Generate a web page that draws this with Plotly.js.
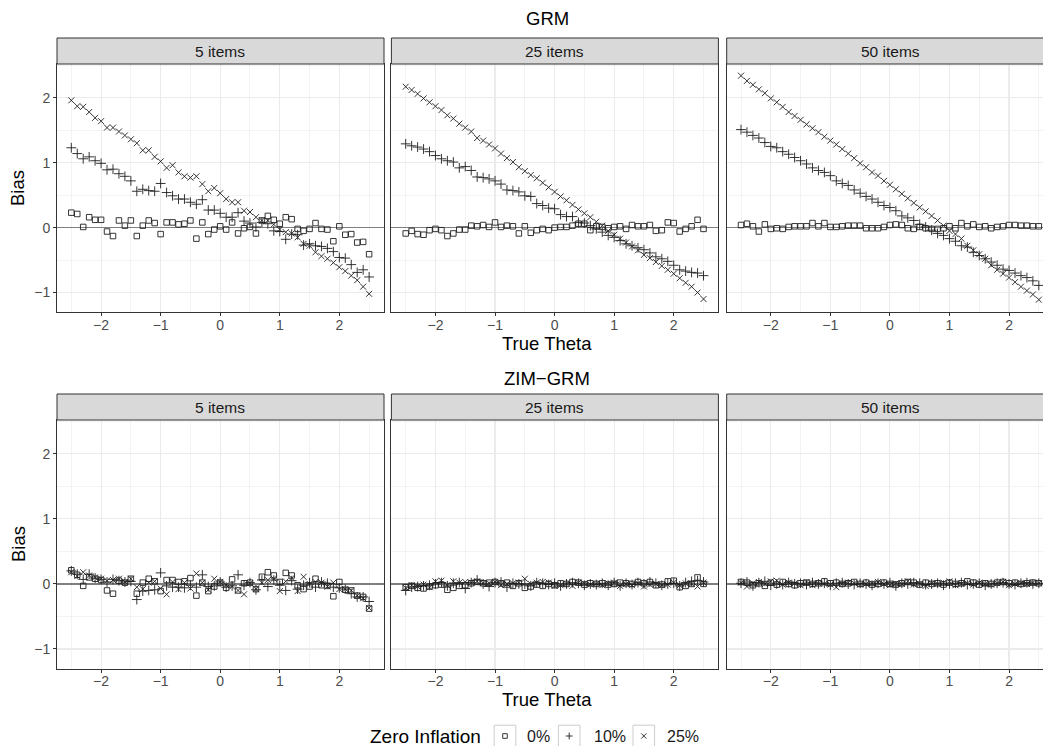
<!DOCTYPE html>
<html>
<head>
<meta charset="utf-8">
<script src="https://cdn.plot.ly/plotly-3.0.1.min.js"></script>
<style>html,body{margin:0;padding:0;background:#fff;}#chart{width:1043px;height:746px;}</style>
</head>
<body>
<div id="chart"></div>
<script>
// ---------- DATA ----------
const theta = [-2.5,-2.4,-2.3,-2.2,-2.1,-2.0,-1.9,-1.8,-1.7,-1.6,-1.5,-1.4,-1.3,-1.2,-1.1,-1.0,-0.9,-0.8,-0.7,-0.6,-0.5,-0.4,-0.3,-0.2,-0.1,0.0,0.1,0.2,0.3,0.4,0.5,0.6,0.7,0.8,0.9,1.0,1.1,1.2,1.3,1.4,1.5,1.6,1.7,1.8,1.9,2.0,2.1,2.2,2.3,2.4,2.5];
const seriesNames = ['0%','10%','25%'];
const legendTitle = 'Zero Inflation';
const facetNames = ['5 items','25 items','50 items'];
const rowTitles = ['GRM','ZIM\u2212GRM'];
const xTitle = 'True Theta';
const yTitle = 'Bias';
const xTickVals = [-2,-1,0,1,2];
const yTickVals = [-1,0,1,2];

// GRM, 5 items
const grm5_0  = [0.23,0.21,0.01,0.16,0.12,0.12,-0.06,-0.13,0.11,0.03,0.11,-0.13,0.03,0.11,0.07,-0.10,0.08,0.08,0.05,0.06,0.11,-0.17,0.08,-0.10,-0.03,0.02,-0.03,0.08,-0.09,-0.01,0.01,-0.09,0.11,0.18,0.12,0.06,0.16,0.13,-0.02,-0.05,-0.02,0.07,-0.02,-0.03,-0.21,0.02,-0.11,-0.10,-0.23,-0.22,-0.41];
const grm5_10 = [1.23,1.14,1.06,1.09,1.03,0.99,0.89,0.90,0.83,0.79,0.72,0.56,0.59,0.57,0.56,0.68,0.54,0.49,0.44,0.44,0.39,0.36,0.43,0.27,0.27,0.22,0.16,0.16,0.23,0.10,0.07,0.01,0.08,0.06,-0.05,-0.06,-0.18,-0.10,-0.11,-0.27,-0.25,-0.28,-0.29,-0.32,-0.37,-0.46,-0.47,-0.57,-0.69,-0.65,-0.76];
const grm5_25 = [1.96,1.87,1.86,1.78,1.69,1.64,1.54,1.54,1.48,1.42,1.36,1.30,1.19,1.19,1.09,1.02,0.92,0.96,0.85,0.79,0.77,0.79,0.67,0.56,0.61,0.53,0.44,0.39,0.39,0.26,0.24,0.16,0.11,0.11,0.05,-0.03,-0.07,-0.09,-0.15,-0.25,-0.28,-0.38,-0.44,-0.48,-0.54,-0.61,-0.67,-0.74,-0.81,-0.91,-1.02];
// GRM, 25 items
const grm25_0  = [-0.09,-0.05,-0.10,-0.11,-0.04,-0.02,-0.04,-0.13,-0.09,-0.03,-0.03,0.03,0.02,0.04,0.01,0.08,0.01,0.03,0.02,-0.09,0.02,-0.08,-0.04,-0.02,-0.04,0.00,0.01,0.01,0.03,0.06,0.06,-0.04,0.02,0.01,-0.01,0.01,0.02,-0.02,0.04,0.02,0.02,0.04,-0.05,-0.04,0.08,0.07,-0.06,-0.02,0.02,0.12,-0.02];
const grm25_10 = [1.29,1.26,1.24,1.21,1.17,1.11,1.06,1.03,1.01,0.92,0.94,0.88,0.78,0.77,0.75,0.72,0.67,0.58,0.57,0.55,0.49,0.48,0.37,0.34,0.30,0.29,0.20,0.17,0.17,0.08,0.07,0.03,-0.02,-0.07,-0.12,-0.15,-0.20,-0.25,-0.28,-0.31,-0.34,-0.39,-0.45,-0.48,-0.52,-0.58,-0.65,-0.67,-0.69,-0.70,-0.74];
const grm25_25 = [2.17,2.12,2.06,1.99,1.93,1.87,1.81,1.73,1.68,1.60,1.54,1.48,1.38,1.34,1.28,1.22,1.14,1.07,1.01,0.93,0.87,0.81,0.76,0.69,0.62,0.55,0.48,0.42,0.35,0.28,0.22,0.16,0.09,0.03,-0.05,-0.11,-0.17,-0.23,-0.29,-0.35,-0.42,-0.47,-0.53,-0.59,-0.65,-0.71,-0.78,-0.85,-0.91,-1.00,-1.10];
// GRM, 50 items
const grm50_0  = [0.04,0.06,0.02,-0.06,0.05,-0.02,-0.01,-0.02,0.01,0.02,0.02,0.02,0.07,0.02,0.07,0.01,0.01,0.02,0.03,0.03,0.03,-0.01,-0.01,-0.01,0.01,0.04,0.05,0.04,-0.01,-0.02,0.01,-0.01,-0.02,-0.02,-0.01,0.02,-0.01,0.07,0.02,0.05,0.01,0.02,-0.01,0.01,0.02,0.04,0.04,0.03,0.03,0.02,0.02];
const grm50_10 = [1.51,1.47,1.42,1.38,1.31,1.25,1.23,1.17,1.13,1.08,1.03,0.98,0.92,0.88,0.85,0.80,0.72,0.68,0.65,0.58,0.53,0.48,0.44,0.39,0.34,0.31,0.26,0.18,0.15,0.11,0.05,0.01,-0.04,-0.09,-0.12,-0.17,-0.21,-0.28,-0.30,-0.38,-0.43,-0.48,-0.53,-0.58,-0.64,-0.66,-0.70,-0.74,-0.77,-0.82,-0.89];
const grm50_25 = [2.34,2.26,2.20,2.13,2.07,1.99,1.93,1.86,1.78,1.72,1.66,1.59,1.53,1.47,1.40,1.34,1.28,1.21,1.14,1.07,0.99,0.93,0.85,0.80,0.72,0.66,0.59,0.52,0.45,0.38,0.31,0.25,0.18,0.11,0.03,-0.05,-0.10,-0.17,-0.28,-0.35,-0.41,-0.48,-0.58,-0.65,-0.71,-0.77,-0.84,-0.91,-0.97,-1.03,-1.11];
// ZIM-GRM, 5 items
const zim5_0  = [0.21,0.14,-0.03,0.10,0.08,0.06,-0.10,-0.15,0.05,0.02,0.08,-0.15,0.02,0.08,0.04,-0.11,0.06,0.06,0.03,0.04,0.09,-0.18,0.02,-0.11,-0.04,0.02,-0.06,0.07,-0.10,0.01,0.02,-0.08,0.11,0.18,0.13,0.03,0.17,0.13,-0.02,-0.08,-0.04,0.08,-0.02,-0.03,-0.19,0.03,-0.09,-0.10,-0.18,-0.20,-0.38];
const zim5_10 = [0.20,0.15,0.07,0.15,0.09,0.07,0.03,0.07,0.05,0.03,0.04,-0.24,-0.11,-0.10,-0.09,0.17,-0.03,-0.05,-0.05,-0.06,-0.02,-0.05,0.14,-0.04,-0.03,0.03,-0.05,-0.03,0.14,-0.02,0.02,-0.09,0.06,-0.04,0.06,-0.02,-0.10,0.05,-0.08,-0.02,0.02,-0.05,0.03,0.01,-0.05,-0.06,-0.08,-0.15,-0.20,-0.20,-0.27];
const zim5_25 = [0.18,0.12,0.18,0.13,0.10,0.08,0.05,0.06,0.08,0.03,0.08,-0.05,-0.08,0.02,0.04,-0.07,-0.16,0.03,-0.08,0.02,-0.07,0.16,0.02,-0.09,0.08,0.03,-0.02,-0.04,-0.10,-0.16,0.01,-0.08,0.02,0.06,0.08,-0.11,0.04,0.09,-0.11,0.11,0.00,0.03,0.02,-0.04,0.02,-0.08,-0.08,-0.10,-0.18,-0.22,-0.37];
// ZIM-GRM, 25 items
const zim25_0  = [-0.05,-0.03,-0.06,-0.07,-0.04,-0.02,-0.01,-0.09,-0.06,-0.03,-0.02,0.01,0.03,0.01,0.02,0.03,0.01,0.02,-0.03,0.01,-0.06,-0.04,-0.01,-0.03,0.00,-0.02,0.01,0.00,0.03,0.02,-0.01,0.01,0.00,0.01,-0.01,0.00,0.02,0.01,0.00,0.03,0.01,0.03,-0.02,-0.01,0.04,0.05,-0.05,-0.03,0.00,0.10,0.00];
const zim25_10 = [-0.10,-0.05,-0.04,-0.03,-0.02,0.00,0.02,-0.03,0.01,0.02,-0.07,0.02,0.06,0.00,-0.04,0.02,0.03,-0.05,0.01,0.00,0.00,-0.03,0.02,0.01,-0.01,0.01,-0.03,0.00,0.02,0.01,-0.02,0.00,-0.01,0.01,-0.02,0.02,-0.03,0.01,-0.01,0.02,0.00,0.03,0.01,-0.02,0.00,0.01,-0.03,0.02,0.04,0.05,0.03];
const zim25_25 = [-0.06,-0.02,-0.04,-0.01,-0.05,0.04,0.05,-0.02,0.04,0.02,0.03,0.02,0.04,0.01,0.01,0.03,-0.02,0.00,0.01,0.02,0.08,0.00,0.02,0.03,0.02,-0.03,-0.02,0.00,-0.03,0.02,0.01,-0.01,0.00,-0.02,0.01,0.02,-0.03,0.00,-0.02,0.01,-0.04,-0.01,0.00,-0.02,-0.01,0.02,-0.02,0.01,0.00,-0.04,0.02];
// ZIM-GRM, 50 items
const zim50_0  = [0.03,0.02,-0.02,0.01,-0.03,0.02,-0.01,0.03,0.00,-0.02,0.01,0.02,0.00,0.01,0.04,0.01,0.02,0.00,0.01,0.03,0.00,0.02,-0.01,0.00,0.02,0.00,-0.01,0.01,0.03,0.02,-0.01,0.02,0.00,0.01,-0.01,0.02,0.00,0.01,0.04,0.02,-0.01,0.01,0.00,0.02,0.03,0.01,0.02,0.00,0.01,0.02,0.01];
const zim50_10 = [0.01,0.03,-0.03,0.02,0.04,-0.02,0.00,-0.01,0.02,0.00,0.01,-0.01,0.02,0.00,0.01,-0.02,0.01,0.02,0.00,-0.01,0.01,0.00,-0.02,0.01,0.00,0.02,-0.03,0.01,0.00,0.02,0.01,-0.01,0.00,0.01,-0.02,0.00,0.01,0.02,-0.01,0.00,0.01,-0.02,0.00,0.01,0.02,0.00,-0.01,0.01,0.02,0.00,0.01];
const zim50_25 = [0.02,-0.04,0.01,0.03,0.00,0.04,0.05,-0.01,0.02,0.01,-0.02,0.03,-0.02,0.01,0.00,-0.01,-0.05,0.00,0.02,0.01,-0.01,0.00,0.01,0.03,0.00,-0.02,0.01,0.00,0.04,-0.01,0.00,-0.03,0.01,0.00,0.02,0.04,-0.02,0.00,0.01,-0.01,0.02,0.00,-0.01,0.01,0.03,-0.02,0.00,0.01,0.00,0.02,0.01];

const panels = [
  [grm5_0, grm5_10, grm5_25],
  [grm25_0, grm25_10, grm25_25],
  [grm50_0, grm50_10, grm50_25],
  [zim5_0, zim5_10, zim5_25],
  [zim25_0, zim25_10, zim25_25],
  [zim50_0, zim50_10, zim50_25]
];

// ---------- STYLE ----------
const W = 1043, H = 746;
const FONT = 'Liberation Sans, Arial, Helvetica, sans-serif';
const MARK = '#1e1e1e';
const markerStyles = [
  {symbol:'square-open', size:5.5},
  {symbol:'cross-thin-open', size:7},
  {symbol:'x-thin-open', size:6}
];
const py = p => 1 - p / H;   // pixel -> paper y
const px = p => p / W;       // pixel -> paper x

const xDomains = [[px(57), px(384)], [px(391.4), px(718.4)], [px(726.7), 1]];
const xRanges  = [[-2.74, 2.75], [-2.74, 2.75], [-2.74, 2.57]];
const yDomains = [[py(312), py(64)], [py(668.5), py(420)]];
const yRange = [-1.30, 2.52];
const stripPx = [[38, 64], [394, 420]];
const stripCenters = [220.3, 554.7, 890];

const traces = [];
panels.forEach((pan, pi) => {
  const ax = pi === 0 ? '' : String(pi + 1);
  pan.forEach((vals, si) => {
    traces.push({
      type: 'scatter', mode: 'markers',
      x: theta, y: vals,
      xaxis: 'x' + ax, yaxis: 'y' + ax,
      name: seriesNames[si], showlegend: false,
      marker: {symbol: markerStyles[si].symbol, size: markerStyles[si].size,
               color: MARK, line: {color: MARK, width: 0.9}},
      cliponaxis: true, hoverinfo: 'skip'
    });
  });
});

const layout = {
  width: W, height: H,
  margin: {l: 0, r: 0, t: 0, b: 0, pad: 0},
  paper_bgcolor: '#fff', plot_bgcolor: '#fff',
  font: {family: FONT, color: '#1a1a1a'},
  showlegend: false,
  shapes: [], annotations: []
};

for (let pi = 0; pi < 6; pi++) {
  const row = Math.floor(pi / 3), col = pi % 3;
  const ax = pi === 0 ? '' : String(pi + 1);
  layout['xaxis' + ax] = {
    domain: xDomains[col], range: xRanges[col], anchor: 'y' + ax,
    tickmode: 'array', tickvals: xTickVals,
    ticks: 'outside', ticklen: 3, tickwidth: 1, tickcolor: '#333',
    tickfont: {size: 14, color: '#4d4d4d', family: FONT},
    ticklabelstandoff: -3,
    showgrid: true, gridcolor: '#ebebeb', gridwidth: 1.1,
    minor: {tickmode: 'linear', tick0: -2.5, dtick: 1, showgrid: true, gridcolor: '#ebebeb', gridwidth: 0.6, ticklen: 0},
    zeroline: false, showline: true, mirror: true, linecolor: '#333', linewidth: 1
  };
  layout['yaxis' + ax] = {
    domain: yDomains[row], range: yRange, anchor: 'x' + ax,
    tickmode: 'array', tickvals: yTickVals,
    ticks: col === 0 ? 'outside' : '', ticklen: 3, tickwidth: 1, tickcolor: '#333',
    showticklabels: col === 0,
    tickfont: {size: 14, color: '#4d4d4d', family: FONT},
    showgrid: true, gridcolor: '#ebebeb', gridwidth: 1.1,
    minor: {tickmode: 'linear', tick0: -0.5, dtick: 1, showgrid: true, gridcolor: '#ebebeb', gridwidth: 0.6, ticklen: 0},
    zeroline: true, zerolinecolor: '#7f7f7f', zerolinewidth: 1.2,
    showline: true, mirror: true, linecolor: '#333', linewidth: 1
  };
  // facet strip
  layout.shapes.push({
    type: 'rect', xref: 'paper', yref: 'paper',
    x0: xDomains[col][0], x1: xDomains[col][1] + (col === 2 ? 0.01 : 0),
    y0: py(stripPx[row][1]), y1: py(stripPx[row][0]),
    fillcolor: '#d9d9d9', line: {color: '#333', width: 1}, layer: 'above'
  });
  layout.annotations.push({
    text: facetNames[col], xref: 'paper', yref: 'paper',
    x: px(stripCenters[col]), y: py((stripPx[row][0] + stripPx[row][1]) / 2),
    xanchor: 'center', yanchor: 'middle', showarrow: false,
    font: {size: 15.5, color: '#1a1a1a', family: FONT}
  });
}

// row titles, axis titles
const rowTitleY = [18, 378], xTitleY = [343, 699], biasY = [188, 544];
for (let r = 0; r < 2; r++) {
  layout.annotations.push({text: rowTitles[r], xref: 'paper', yref: 'paper', x: px(547), y: py(rowTitleY[r]),
    xanchor: 'center', yanchor: 'middle', showarrow: false, font: {size: 18.5, color: '#000', family: FONT}});
  layout.annotations.push({text: xTitle, xref: 'paper', yref: 'paper', x: px(547), y: py(xTitleY[r]),
    xanchor: 'center', yanchor: 'middle', showarrow: false, borderpad: 0, font: {size: 18.5, color: '#000', family: FONT}});
  layout.annotations.push({text: yTitle, xref: 'paper', yref: 'paper', x: px(18), y: py(biasY[r]),
    xanchor: 'center', yanchor: 'middle', textangle: -90, showarrow: false, font: {size: 18.5, color: '#000', family: FONT}});
}

// ---------- LEGEND (ggplot-style keys at the bottom) ----------
const legY = 736;
layout.annotations.push({text: legendTitle, xref: 'paper', yref: 'paper', x: px(483), y: py(legY),
  xanchor: 'right', yanchor: 'middle', showarrow: false, font: {size: 19, color: '#000', family: FONT}});
const keyCenters = [505, 569.2, 643.8];
const keyTextX = [525, 591.7, 665];
const keyHalf = [2.3, 3.4, 2.6];
keyCenters.forEach((cx, i) => {
  layout.shapes.push({type: 'rect', xref: 'paper', yref: 'paper',
    x0: px(cx - 10.8), x1: px(cx + 10.8), y0: py(legY + 10.8), y1: py(legY - 10.8),
    fillcolor: '#fff', line: {color: '#cccccc', width: 1}, layer: 'above'});
  const h = keyHalf[i];
  let path;
  if (i === 0) {
    path = `M${px(cx-h)},${py(legY-h)} L${px(cx+h)},${py(legY-h)} L${px(cx+h)},${py(legY+h)} L${px(cx-h)},${py(legY+h)} Z`;
  } else if (i === 1) {
    path = `M${px(cx-h)},${py(legY)} L${px(cx+h)},${py(legY)} M${px(cx)},${py(legY-h)} L${px(cx)},${py(legY+h)}`;
  } else {
    path = `M${px(cx-h)},${py(legY-h)} L${px(cx+h)},${py(legY+h)} M${px(cx-h)},${py(legY+h)} L${px(cx+h)},${py(legY-h)}`;
  }
  layout.shapes.push({type: 'path', xref: 'paper', yref: 'paper', path: path,
    line: {color: '#333', width: 1}, fillcolor: 'rgba(0,0,0,0)', layer: 'above'});
  layout.annotations.push({text: seriesNames[i], xref: 'paper', yref: 'paper', x: px(keyTextX[i]), y: py(legY),
    xanchor: 'left', yanchor: 'middle', showarrow: false, font: {size: 16, color: '#1a1a1a', family: FONT}});
});

Plotly.newPlot('chart', traces, layout, {displayModeBar: false, staticPlot: true});
</script>
</body>
</html>
